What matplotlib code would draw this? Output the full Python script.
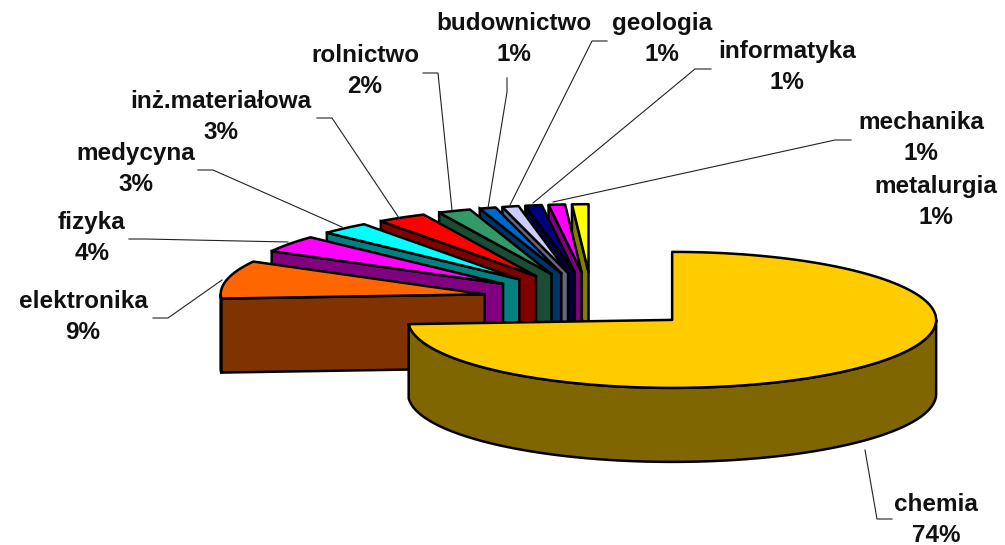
import numpy as np
import matplotlib
matplotlib.use("Agg")
from matplotlib import pyplot as plt

# Data
names = ["chemia", "elektronika", "fizyka", "medycyna", "inż.materiałowa", "rolnictwo",
         "budownictwo", "geologia", "informatyka", "mechanika", "metalurgia"]
values = [74, 9, 4, 3, 3, 2, 1, 1, 1, 1, 1]
top_colors = ["#FFCC00", "#FF6600", "#FF00FF", "#00FFFF", "#FF0000", "#339966",
              "#0066CC", "#CCCCFF", "#000080", "#FF00FF", "#FFFF00"]
side_colors = ["#806600", "#803300", "#800080", "#008080", "#800000", "#1A4D33",
               "#003366", "#666680", "#000040", "#800080", "#808000"]

# Pie geometry, in pixels
center_x = 592
center_y = 300.5
rx = 264
ry = 68
depth = 74
explode = 0.4165

# Label layout: centre of the two text lines
label_x = [936, 83, 92, 136, 221, 365, 514, 662, 787, 921, 936]
label_y = [520, 317, 238, 169, 117, 71, 39, 39, 67, 138, 202]

# Leader lines
leaders = {
    "chemia": ([892, 877, 865], [519, 519, 450]),
    "elektronika": ([153, 168, 222], [318, 318, 280]),
    "fizyka": ([129, 145, 288], [239, 239, 242]),
    "medycyna": ([198, 213, 342], [170, 170, 227]),
    "inż.materiałowa": ([317, 332, 399], [118, 118, 218]),
    "rolnictwo": ([423, 438, 452], [73, 73, 210]),
    "budownictwo": ([507, 507, 488], [78, 92, 208]),
    "geologia": ([607, 592, 510], [41, 41, 205]),
    "informatyka": ([711, 695, 533], [69, 69, 203]),
    "mechanika": ([851, 835, 553], [140, 140, 202]),
}


def ellipse(ax0, ay0, a0, a1):
    # angles are clockwise from 12 o'clock, screen y goes down
    t = np.radians(np.linspace(a0, a1, max(int(abs(a1 - a0)) * 2, 2)))
    return ax0 + rx * np.sin(t), ay0 - ry * np.cos(t)


fig = plt.figure(figsize=(10.05, 5.45), dpi=100)
ax = fig.add_axes([0, 0, 1, 1])
ax.set_xlim(0, 1005)
ax.set_ylim(545, 0)
ax.axis("off")

edges = np.cumsum([0] + values) / sum(values) * 360
line_w = 1.8

# back slices first, the big one goes on top
order = list(range(len(values) - 1, 0, -1)) + [0]
for i in order:
    a0, a1 = edges[i], edges[i + 1]
    mid = np.radians((a0 + a1) / 2)
    px = center_x + explode * rx * np.sin(mid)
    py = center_y - explode * ry * np.cos(mid)

    # radial face at the start of the slice
    if 180 <= a0 < 360:
        ex, ey = ellipse(px, py, a0, a0)
        ax.fill([px, ex[0], ex[0], px], [py, ey[0], ey[0] + depth, py + depth],
                facecolor=side_colors[i], edgecolor="black", lw=line_w, joinstyle="miter")

    # outer wall, only the front half shows
    w0, w1 = max(a0, 90), min(a1, 270)
    if w1 > w0:
        wx, wy = ellipse(px, py, w0, w1)
        ax.fill(np.r_[wx, wx[::-1]], np.r_[wy, wy[::-1] + depth],
                facecolor=side_colors[i], edgecolor="black", lw=line_w, joinstyle="round")

    # top surface
    tx, ty = ellipse(px, py, a0, a1)
    ax.fill(np.r_[px, tx], np.r_[py, ty],
            facecolor=top_colors[i], edgecolor="black", lw=line_w, joinstyle="round")

for name, (lx, ly) in leaders.items():
    ax.plot(lx, ly, color="#222222", lw=0.8, zorder=5)

for i, name in enumerate(names):
    ax.text(label_x[i], label_y[i], f"{name}\n{values[i]}%", ha="center", va="center",
            family="Liberation Sans", fontweight="bold", fontsize=17.5, linespacing=1.39,
            color="#111111")

fig.savefig("out.png", dpi=100)
